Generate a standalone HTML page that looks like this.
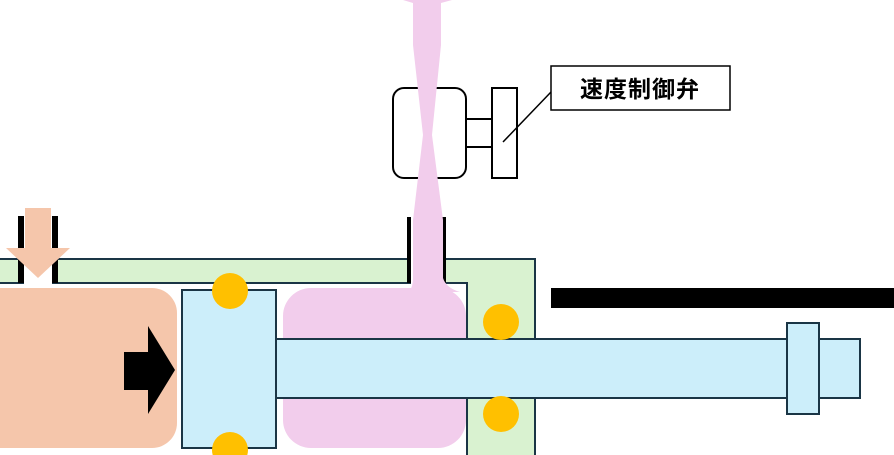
<!DOCTYPE html>
<html><head><meta charset="utf-8"><style>
html,body{margin:0;padding:0;background:#fff;width:894px;height:455px;overflow:hidden}
</style></head><body>
<svg width="894" height="455" viewBox="0 0 894 455" xmlns="http://www.w3.org/2000/svg">
<!-- housing -->
<path d="M-2 259 H535 V457 H467 V283 H-2 Z" fill="#d9f2d0" stroke="#1a3545" stroke-width="2"/>
<!-- left port -->
<rect x="24" y="258" width="28" height="27" fill="#fff"/>
<rect x="18" y="216" width="6" height="67" fill="#000"/>
<rect x="52" y="216" width="6" height="67" fill="#000"/>
<!-- right port -->
<rect x="411" y="258" width="30" height="27" fill="#fff"/>
<rect x="407" y="217" width="4" height="66" fill="#000"/>
<rect x="441" y="217" width="5" height="66" fill="#000"/>
<!-- peach input arrow -->
<polygon points="25,208 51,208 51,248 70,248 38,278 6,248 25,248" fill="#f5c6ab"/>
<!-- peach chamber -->
<rect x="0" y="288" width="177" height="160" rx="25" fill="#f5c6ab"/>
<rect x="-20" y="288" width="60" height="160" fill="#f5c6ab"/>
<polygon points="124,352 148,352 148,326 175,370 148,414 148,390 124,390" fill="#000"/>
<!-- pink chamber -->
<rect x="283" y="288" width="183" height="160" rx="28" fill="#f2cdec"/>
<!-- piston -->
<rect x="182" y="290" width="94" height="158" fill="#cceefa" stroke="#1a3545" stroke-width="2"/>
<!-- rod -->
<rect x="276" y="339" width="584" height="59" fill="#cceefa" stroke="#1a3545" stroke-width="2"/>
<rect x="787" y="323" width="32" height="91" fill="#cceefa" stroke="#1a3545" stroke-width="2"/>
<!-- seals -->
<g fill="#ffc000">
<circle cx="230" cy="291" r="18"/><circle cx="230" cy="450" r="18"/>
<circle cx="501" cy="322" r="18"/><circle cx="501" cy="414" r="18"/>
</g>
<!-- black bar -->
<rect x="551" y="288" width="345" height="20" fill="#000"/>
<!-- valve -->
<rect x="393" y="88" width="73" height="90" rx="11" fill="none" stroke="#000" stroke-width="2"/>
<!-- pink tube -->
<path d="M403 0 H452 L441 3 L441 45 L432 135 L443 220 L443 278 Q446 288 460 292 L420 292 L410 290 Q413 286 413 278 L413 220 L423 135 L413 45 L413 3 Z" fill="#f2cdec"/>
<line x1="466" y1="119" x2="492" y2="119" stroke="#000" stroke-width="2"/>
<line x1="466" y1="147" x2="492" y2="147" stroke="#000" stroke-width="2"/>
<rect x="492" y="88" width="25" height="90" fill="#fff" stroke="#000" stroke-width="2"/>
<line x1="551" y1="92" x2="503" y2="142" stroke="#000" stroke-width="1.5"/>
<rect x="551" y="66" width="179" height="44" fill="#fff" stroke="#000" stroke-width="1.5"/>
<text x="640" y="97" text-anchor="middle" font-family="'Liberation Sans','Noto Sans CJK JP',sans-serif" font-size="23" font-weight="bold" letter-spacing="1">速度制御弁</text>
</svg>
</body></html>
